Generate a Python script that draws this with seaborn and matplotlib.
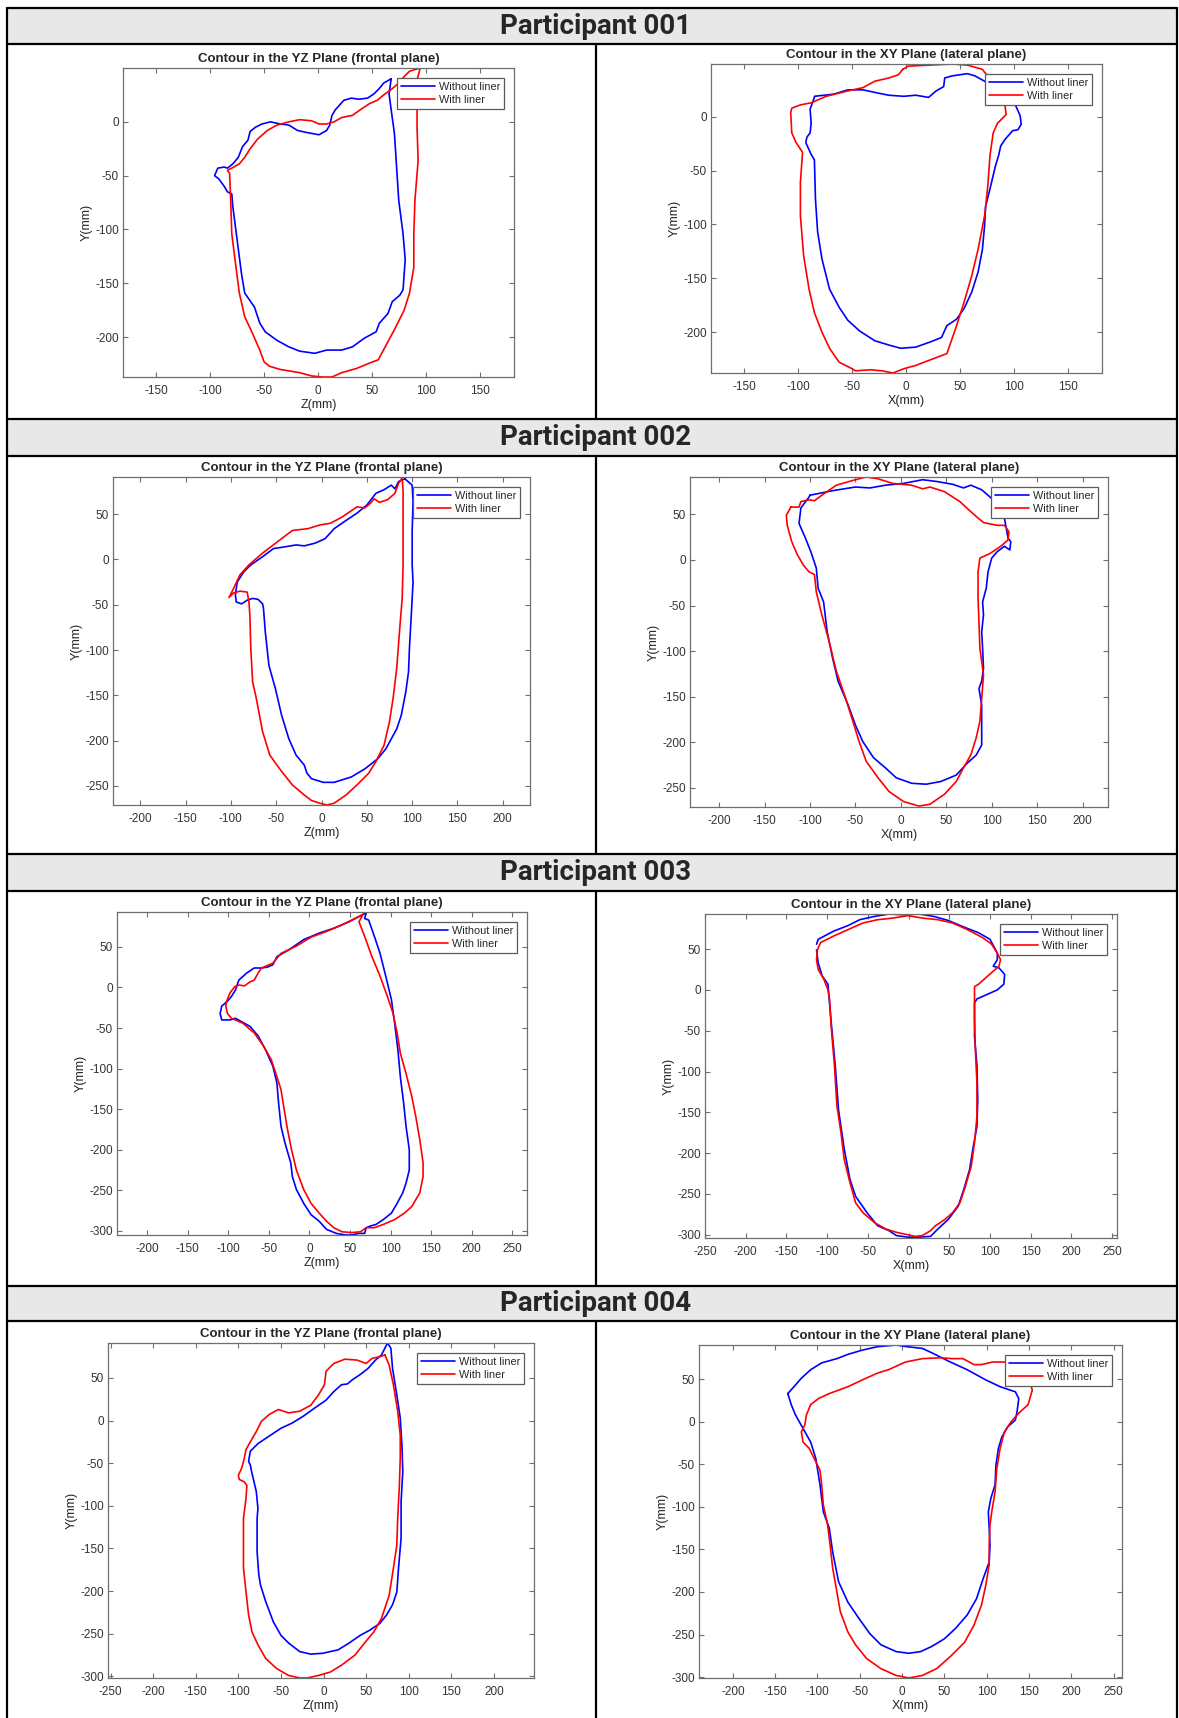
import numpy as np
import pandas as pd
import matplotlib
matplotlib.use("Agg")
import matplotlib.pyplot as plt
from matplotlib.lines import Line2D
from matplotlib.patches import Rectangle
import seaborn as sns

# ---------------- contour data (mm) ----------------
# Participant 001, YZ plane
p1_yz_wo_z = [68, 66, 68, 71, 73, 75, 79, 81, 79, 76, 69, 65, 57, 54, 43, 32, 22, 8, -3, -17,
              -27, -38, -49, -54, -59, -68, -71, -75, -79, -80, -84, -87, -92, -96, -93, -87, -84, -79, -74, -70,
              -65, -63, -58, -52, -44, -35, -27, -19, -10, 1, 8, 11, 13, 16, 24, 31, 38, 46, 52, 57, 61, 68]
p1_yz_wo_y = [40, 26, 11, -11, -42, -73, -104, -128, -156, -161, -167, -178, -187, -195, -201, -209, -212, -212, -215, -213,
              -209, -203, -195, -187, -172, -159, -141, -110, -79, -67, -65, -60, -53, -50, -43, -42, -43, -39, -33, -23,
              -17, -9, -5, -2, 0, -2, -3, -8, -10, -12, -8, -3, 6, 11, 20, 22, 21, 22, 26, 31, 36, 40]
p1_yz_w_z = [95, 92, 92, 92, 93, 90, 89, 89, 85, 80, 71, 64, 56, 48, 36, 22, 13, 4, -6, -17,
             -35, -45, -50, -54, -61, -68, -73, -77, -80, -81, -82, -84, -80, -73, -68, -63, -56, -47, -38, -27,
             -17, -6, 1, 8, 15, 22, 32, 39, 48, 55, 61, 68, 75, 80, 85, 95]
p1_yz_w_y = [50, 39, 20, -5, -36, -73, -104, -135, -159, -175, -193, -206, -221, -224, -229, -233, -237, -237, -236, -233,
             -230, -227, -223, -212, -196, -181, -159, -128, -104, -73, -48, -45, -43, -39, -33, -25, -16, -8, -3, 0,
             2, 1, -2, -2, 0, 4, 6, 11, 17, 20, 25, 30, 36, 42, 47, 50]

# Participant 001, XY plane
p1_xy_wo_x = [-85, -67, -54, -40, -26, -16, -2, 9, 21, 28, 35, 36, 43, 57, 64, 73, 92, 102, 106, 107,
              104, 99, 92, 88, 86, 83, 78, 74, 73, 71, 67, 61, 54, 47, 38, 33, 23, 9, -5, -16,
              -29, -43, -54, -62, -71, -78, -82, -84, -85, -88, -93, -92, -89, -88, -89, -85]
p1_xy_wo_y = [19, 21, 25, 25, 22, 20, 19, 20, 18, 24, 28, 36, 38, 40, 38, 33, 19, 10, 1, -7,
              -12, -13, -21, -27, -36, -46, -67, -83, -101, -123, -144, -163, -178, -188, -194, -205, -209, -214, -215, -212,
              -208, -199, -189, -177, -160, -132, -107, -77, -40, -35, -24, -19, -15, -6, 7, 18]
p1_xy_w_x = [-3, 2, 22, 43, 57, 71, 78, 88, 92, 93, 90, 85, 81, 78, 76, 73, 67, 61, 54, 47,
             38, 22, 9, -2, -12, -22, -33, -47, -50, -62, -71, -78, -85, -90, -95, -98, -98, -96, -98, -102,
             -106, -107, -106, -98, -88, -74, -54, -40, -29, -16, -7, -3]
p1_xy_w_y = [44, 47, 48, 49, 48, 44, 35, 19, 10, 2, -1, -6, -15, -36, -64, -92, -123, -148, -172, -194,
             -220, -226, -231, -234, -238, -236, -235, -236, -234, -228, -215, -200, -182, -160, -129, -92, -61, -33, -30, -24,
             -15, 4, 8, 11, 13, 19, 24, 27, 33, 36, 39, 44]

# Participant 002, YZ plane
p2_yz_wo_z = [92, 100, 101, 100, 100, 101, 99, 97, 96, 93, 88, 83, 77, 71, 62, 48, 33, 14, 2, -11,
              -16, -19, -28, -36, -44, -51, -58, -62, -64, -65, -70, -76, -82, -88, -94, -95, -93, -86, -78, -65,
              -53, -40, -28, -19, -7, 4, 14, 27, 39, 50, 60, 69, 77, 81, 85, 92]
p2_yz_wo_y = [89, 82, 64, 31, -6, -25, -62, -98, -124, -146, -172, -187, -198, -209, -220, -231, -240, -246, -246, -242,
              -236, -227, -216, -198, -172, -142, -117, -80, -54, -49, -44, -43, -45, -49, -47, -39, -25, -14, -6, 3,
              12, 14, 16, 15, 18, 23, 34, 43, 51, 60, 73, 77, 82, 78, 86, 89]
p2_yz_w_z = [89, 90, 90, 90, 89, 86, 83, 79, 75, 69, 60, 52, 39, 27, 14, 6, -2, -11, -19, -32,
             -44, -57, -65, -72, -76, -78, -79, -80, -82, -90, -97, -102, -97, -90, -80, -65, -44, -32, -15, -2,
             10, 23, 39, 48, 54, 58, 64, 73, 81, 85, 89]
p2_yz_w_y = [90, 75, 30, -6, -43, -80, -120, -153, -179, -205, -223, -236, -249, -260, -269, -271, -269, -266, -260, -249,
             -234, -216, -190, -153, -135, -98, -62, -47, -36, -35, -37, -42, -32, -17, -6, 7, 23, 32, 34, 38,
             40, 47, 58, 57, 62, 67, 63, 66, 73, 84, 90]

# Participant 002, XY plane
p2_xy_wo_x = [-100, -75, -50, -34, -17, 3, 24, 40, 57, 69, 77, 89, 104, 114, 116, 118, 121, 120, 114, 106,
              100, 96, 94, 90, 91, 89, 90, 91, 89, 86, 89, 89, 89, 83, 73, 61, 44, 28, 12, -5,
              -17, -30, -42, -50, -58, -69, -75, -81, -85, -91, -93, -99, -105, -112, -110, -101, -100]
p2_xy_wo_y = [71, 76, 80, 79, 82, 84, 88, 86, 83, 79, 82, 77, 64, 46, 35, 24, 20, 11, 15, 9,
              2, -13, -31, -46, -60, -79, -97, -119, -133, -141, -159, -181, -203, -214, -223, -236, -243, -246, -245, -239,
              -228, -217, -199, -181, -159, -133, -108, -79, -46, -31, -9, 9, 24, 40, 57, 69, 71]
p2_xy_w_x = [-121, -112, -110, -101, -95, -87, -71, -50, -38, -25, -9, 12, 24, 32, 48, 65, 77, 85, 91, 106,
             114, 119, 118, 110, 98, 87, 85, 85, 86, 87, 91, 89, 87, 83, 77, 69, 61, 48, 32, 20,
             3, -13, -25, -38, -46, -54, -62, -71, -79, -87, -93, -95, -101, -107, -114, -120, -125, -126, -121]
p2_xy_w_y = [58, 58, 64, 66, 65, 71, 82, 88, 91, 89, 84, 82, 78, 80, 75, 64, 53, 46, 41, 38,
             38, 31, 22, 15, 7, 2, -13, -42, -68, -97, -126, -152, -177, -195, -214, -228, -243, -257, -268, -270,
             -265, -254, -239, -221, -199, -173, -148, -122, -89, -60, -35, -16, -13, -6, 6, 20, 38, 49, 58]

# Participant 003, YZ plane
p3_yz_wo_z = [70, 68, 73, 80, 87, 94, 101, 105, 109, 112, 116, 119, 123, 123, 119, 115, 108, 101, 91, 82,
              75, 70, 68, 61, 52, 45, 33, 21, 12, 2, -7, -16, -21, -23, -30, -35, -38, -40, -45, -54,
              -63, -73, -82, -91, -98, -108, -110, -108, -101, -96, -91, -87, -77, -68, -59, -52, -45, -40, -26, -7,
              12, 30, 49, 66, 70]
p3_yz_wo_y = [92, 85, 83, 63, 42, 14, -15, -44, -77, -110, -142, -171, -200, -225, -241, -253, -266, -278, -286, -292,
              -294, -296, -303, -303, -305, -305, -303, -298, -288, -280, -266, -249, -233, -216, -192, -171, -142, -118, -97, -77,
              -60, -48, -43, -38, -40, -40, -32, -23, -17, -11, -3, 9, 18, 24, 24, 25, 28, 38, 46, 59,
              67, 73, 81, 90, 92]
p3_yz_w_z = [66, 61, 68, 77, 87, 96, 103, 108, 112, 119, 126, 131, 136, 140, 140, 136, 126, 117, 105, 91,
             80, 70, 63, 52, 40, 30, 21, 12, 2, -7, -16, -22, -27, -31, -35, -40, -47, -56, -68, -82,
             -96, -101, -103, -102, -98, -92, -87, -80, -73, -68, -63, -59, -45, -35, -16, 2, 21, 40, 56, 66]
p3_yz_w_y = [90, 81, 63, 38, 14, -11, -32, -56, -81, -106, -134, -159, -188, -216, -233, -253, -270, -278, -286, -292,
             -296, -296, -301, -302, -301, -296, -288, -278, -266, -249, -225, -200, -175, -151, -126, -110, -89, -73, -56, -44,
             -38, -32, -23, -17, -7, 1, 3, 2, 7, 9, 18, 24, 30, 42, 51, 62, 69, 77, 85, 90]

# Participant 003, XY plane
p3_xy_wo_x = [-113, -111, -92, -74, -60, -42, -24, -6, 13, 31, 49, 68, 86, 100, 109, 109, 104, 111, 118, 117,
              109, 100, 91, 84, 81, 81, 84, 85, 84, 79, 75, 68, 61, 49, 36, 27, 13, -1, -15, -24,
              -38, -51, -65, -72, -79, -86, -90, -95, -99, -106, -111, -113]
p3_xy_wo_y = [56, 62, 72, 79, 86, 90, 93, 92, 93, 90, 85, 77, 70, 62, 45, 37, 29, 27, 19, 7,
              0, -4, -8, -11, -16, -57, -93, -134, -167, -195, -220, -244, -265, -281, -293, -302, -303, -303, -301, -295,
              -289, -273, -253, -232, -195, -147, -93, -40, 7, 17, 33, 49]
p3_xy_w_x = [-112, -108, -92, -74, -56, -38, -19, -1, 17, 36, 54, 72, 91, 102, 109, 113, 111, 104, 95, 86,
             81, 81, 82, 84, 84, 81, 77, 70, 63, 54, 45, 33, 27, 17, 8, -1, -15, -28, -42, -56,
             -65, -72, -79, -83, -88, -91, -95, -97, -99, -104, -111, -113, -112]
p3_xy_w_y = [49, 58, 66, 74, 82, 86, 88, 91, 88, 86, 82, 74, 64, 56, 45, 37, 29, 23, 15, 7,
             4, -32, -73, -114, -155, -187, -216, -240, -261, -273, -281, -289, -295, -301, -302, -300, -297, -293, -285, -273,
             -261, -236, -208, -175, -142, -93, -45, -12, 0, 13, 25, 37, 49]

# Participant 004, YZ plane
p4_yz_wo_z = [75, 79, 81, 86, 90, 92, 93, 91, 91, 88, 86, 81, 74, 66, 54, 43, 30, 17, -1, -15,
              -28, -41, -50, -59, -68, -74, -76, -78, -78, -77, -79, -84, -86, -88, -86, -77, -68, -59, -50, -37,
              -24, -10, 3, 12, 21, 28, 34, 43, 52, 61, 68, 75]
p4_yz_wo_y = [91, 85, 61, 30, 3, -29, -60, -95, -138, -173, -201, -216, -228, -238, -246, -252, -261, -269, -273, -274,
              -271, -261, -252, -236, -212, -193, -181, -154, -115, -103, -83, -62, -52, -48, -36, -27, -21, -15, -9, -3,
              5, 15, 24, 34, 42, 43, 48, 54, 61, 71, 77, 91]
p4_yz_w_z = [72, 77, 82, 87, 90, 90, 89, 87, 86, 82, 77, 68, 59, 48, 37, 21, 8, -6, -19, -28,
             -41, -55, -68, -77, -84, -88, -91, -94, -94, -94, -91, -90, -93, -99, -100, -97, -95, -93, -91, -86,
             -79, -73, -64, -53, -41, -28, -15, -6, 1, 3, 12, 25, 39, 50, 57, 66, 72]
p4_yz_w_y = [77, 65, 42, 11, -17, -44, -76, -115, -146, -173, -205, -232, -248, -261, -275, -287, -295, -299, -302, -302,
             -299, -291, -279, -263, -248, -228, -201, -173, -146, -115, -91, -76, -72, -69, -64, -58, -52, -44, -34, -25,
             -13, -1, 7, 13, 9, 11, 18, 30, 42, 58, 67, 72, 71, 67, 73, 75, 77]

# Participant 004, XY plane
p4_xy_wo_x = [-135, -126, -119, -108, -95, -77, -64, -47, -29, -7, 6, 24, 37, 55, 77, 99, 116, 134, 138, 136,
              134, 125, 118, 114, 111, 110, 105, 102, 103, 104, 103, 96, 88, 77, 63, 50, 35, 22, 8, -7,
              -25, -38, -51, -64, -75, -82, -86, -93, -97, -102, -108, -117, -126, -131, -135]
p4_xy_wo_y = [33, 43, 51, 61, 69, 74, 79, 84, 88, 90, 88, 86, 80, 71, 61, 49, 41, 35, 27, 12,
              2, -6, -18, -31, -51, -74, -90, -106, -125, -145, -165, -184, -208, -227, -243, -255, -264, -270, -272, -270,
              -262, -249, -231, -212, -188, -153, -125, -106, -74, -43, -24, -8, 8, 20, 33]
p4_xy_w_x = [-108, -99, -86, -64, -47, -29, -16, 4, 24, 46, 59, 72, 85, 94, 107, 129, 147, 154, 151, 149,
             138, 129, 121, 116, 112, 110, 106, 104, 103, 103, 99, 94, 85, 74, 59, 41, 24, 8, -7, -25,
             -42, -55, -64, -73, -77, -82, -85, -88, -93, -95, -97, -104, -110, -117, -119, -115, -113, -108]
p4_xy_w_y = [20, 27, 33, 41, 49, 57, 61, 70, 74, 75, 74, 74, 67, 67, 70, 70, 59, 37, 27, 20,
             10, 0, -12, -31, -55, -82, -106, -121, -145, -168, -192, -215, -239, -259, -274, -290, -298, -301, -298, -290,
             -278, -262, -247, -223, -200, -172, -145, -121, -98, -74, -57, -43, -31, -24, -12, -4, 8, 20]

participants = ["Participant 001", "Participant 002", "Participant 003", "Participant 004"]
conditions = ["Without liner", "With liner"]

# axis ranges / ticks per panel
p1_xticks = [-150, -100, -50, 0, 50, 100, 150]
p1_yticks = [-200, -150, -100, -50, 0]
p2_xticks = [-200, -150, -100, -50, 0, 50, 100, 150, 200]
p2_yticks = [-250, -200, -150, -100, -50, 0, 50]
p3_yz_xticks = [-200, -150, -100, -50, 0, 50, 100, 150, 200, 250]
p3_xy_xticks = [-250, -200, -150, -100, -50, 0, 50, 100, 150, 200, 250]
p4_yz_xticks = [-250, -200, -150, -100, -50, 0, 50, 100, 150, 200]
p4_xy_xticks = [-200, -150, -100, -50, 0, 50, 100, 150, 200, 250]
p34_yticks = [-300, -250, -200, -150, -100, -50, 0, 50]

# ---------------- figure / table layout ----------------
W, H = 1179, 1718
sns.set_theme(style="white")
plt.rcParams['font.family'] = ['Liberation Sans', 'DejaVu Sans']
plt.rcParams['axes.unicode_minus'] = False

fig = plt.figure(figsize=(W / 100, H / 100), dpi=100)


def frac(x0, x1, y0, y1):
    return [x0 / W, 1 - y1 / H, (x1 - x0) / W, (y1 - y0) / H]


def hline(y, x0=7, x1=1177, lw=1.6):
    fig.add_artist(Line2D([x0 / W, x1 / W], [1 - y / H, 1 - y / H], color='black', lw=lw,
                          transform=fig.transFigure))


def vline(x, y0, y1, lw=1.6):
    fig.add_artist(Line2D([x / W, x / W], [1 - y0 / H, 1 - y1 / H], color='black', lw=lw,
                          transform=fig.transFigure))


headers = [(8, 44), (419, 456), (854, 891), (1286, 1321)]
rows = [(44, 419), (456, 854), (891, 1286), (1321, 1718)]

for (y0, y1), name in zip(headers, participants):
    fig.add_artist(Rectangle((7 / W, 1 - y1 / H), 1170 / W, (y1 - y0) / H, transform=fig.transFigure,
                             facecolor='#e8e8e8', edgecolor='none', zorder=0))
    fig.text(596 / W, 1 - (y0 + y1) / 2 / H, name, ha='center', va='center', fontsize=20,
             fontweight='bold', family=['Roboto', 'DejaVu Sans'])
    hline(y0)
    hline(y1)
for y0, y1 in rows:
    vline(596, y0, y1)
vline(7, 8, 1718)
vline(1177, 8, 1718)

# ---------------- panels ----------------
panels = [
    dict(rect=(123, 514, 68, 377), h=(p1_yz_wo_z, p1_yz_w_z), v=(p1_yz_wo_y, p1_yz_w_y), plane='YZ',
         xlim=(-181, 182), ylim=(-237, 50), xt=p1_xticks, yt=p1_yticks),
    dict(rect=(711, 1102, 64, 373), h=(p1_xy_wo_x, p1_xy_w_x), v=(p1_xy_wo_y, p1_xy_w_y), plane='XY',
         xlim=(-181, 182), ylim=(-238, 49), xt=p1_xticks, yt=p1_yticks),
    dict(rect=(113, 530, 477, 805), h=(p2_yz_wo_z, p2_yz_w_z), v=(p2_yz_wo_y, p2_yz_w_y), plane='YZ',
         xlim=(-230, 230), ylim=(-271, 91), xt=p2_xticks, yt=p2_yticks),
    dict(rect=(690, 1108, 477, 807), h=(p2_xy_wo_x, p2_xy_w_x), v=(p2_xy_wo_y, p2_xy_w_y), plane='XY',
         xlim=(-232, 228), ylim=(-271, 91), xt=p2_xticks, yt=p2_yticks),
    dict(rect=(117, 527, 912, 1235), h=(p3_yz_wo_z, p3_yz_w_z), v=(p3_yz_wo_y, p3_yz_w_y), plane='YZ',
         xlim=(-237, 268), ylim=(-305, 93), xt=p3_yz_xticks, yt=p34_yticks),
    dict(rect=(705, 1117, 914, 1238), h=(p3_xy_wo_x, p3_xy_w_x), v=(p3_xy_wo_y, p3_xy_w_y), plane='XY',
         xlim=(-250, 256), ylim=(-304, 93), xt=p3_xy_xticks, yt=p34_yticks),
    dict(rect=(108, 534, 1343, 1678), h=(p4_yz_wo_z, p4_yz_w_z), v=(p4_yz_wo_y, p4_yz_w_y), plane='YZ',
         xlim=(-253, 247), ylim=(-302, 91), xt=p4_yz_xticks, yt=p34_yticks),
    dict(rect=(699, 1122, 1345, 1678), h=(p4_xy_wo_x, p4_xy_w_x), v=(p4_xy_wo_y, p4_xy_w_y), plane='XY',
         xlim=(-240, 260), ylim=(-301, 90), xt=p4_xy_xticks, yt=p34_yticks),
]

palette = {"Without liner": "blue", "With liner": "red"}

for p in panels:
    ax = fig.add_axes(frac(*p['rect']))
    df = pd.DataFrame({
        'h': np.r_[p['h'][0], p['h'][1]],
        'v': np.r_[p['v'][0], p['v'][1]],
        'condition': [conditions[0]] * len(p['h'][0]) + [conditions[1]] * len(p['h'][1]),
    })
    sns.lineplot(data=df, x='h', y='v', hue='condition', hue_order=conditions, palette=palette,
                 sort=False, estimator=None, lw=1.2, ax=ax)
    ax.set_xlim(*p['xlim'])
    ax.set_ylim(*p['ylim'])
    ax.set_xticks(p['xt'])
    ax.set_yticks(p['yt'])

    if p['plane'] == 'YZ':
        ax.set_title('Contour in the YZ Plane (frontal plane)', fontsize=9.5, fontweight='bold', pad=4)
        ax.set_xlabel('Z(mm)', fontsize=9, color='#262626', labelpad=1.5)
    else:
        ax.set_title('Contour in the XY Plane (lateral plane)', fontsize=9.5, fontweight='bold', pad=4)
        ax.set_xlabel('X(mm)', fontsize=9, color='#262626', labelpad=1.5)
    ax.set_ylabel('Y(mm)', fontsize=9, color='#262626', labelpad=2)

    for s in ax.spines.values():
        s.set_visible(True)
        s.set_color('#6e6e6e')
        s.set_linewidth(0.9)
    ax.tick_params(direction='in', length=3.5, width=0.8, color='#6e6e6e', labelcolor='#333333',
                   labelsize=8.5, top=True, right=True, bottom=True, left=True)
    ax.tick_params(axis='x', pad=6)
    ax.tick_params(axis='y', pad=3)

    handles, labels = ax.get_legend_handles_labels()
    leg = ax.legend(handles, labels, loc='upper right', fontsize=7.8, frameon=True, fancybox=False,
                    edgecolor='#5a5a5a', framealpha=1, borderpad=0.35, labelspacing=0.3,
                    handlelength=3.2, handletextpad=0.35, borderaxespad=0.9)
    leg.get_frame().set_linewidth(0.9)

fig.savefig('out.png', dpi=100)
